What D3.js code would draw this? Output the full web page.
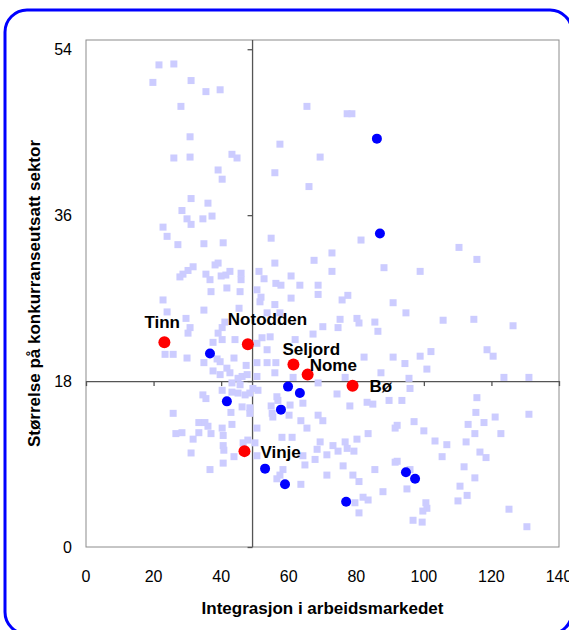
<!DOCTYPE html>
<meta charset="utf-8">
<style>
body { margin: 0; background: #fff; }
text { font-family: "Liberation Sans", Arial, sans-serif; fill: #000; }
.tick-label { font-size: 16px; }
.axis-title { font-size: 17px; font-weight: bold; }
.place-label { font-size: 17px; font-weight: bold; }
</style>
<body>
<script src="https://d3js.org/d3.v7.min.js"></script>
<script>

// all other municipalities (light squares): [integrasjon, størrelse]
var otherMunicipalities = [
  [21.6,52.3],[26.0,52.4],[19.8,50.4],[31.1,50.6],[35.5,49.4],[39.7,49.6],[28.1,47.8],[65.4,47.8],
  [77.3,47.0],[78.7,47.0],[30.8,44.5],[57.4,43.7],[26.0,42.2],[30.8,42.3],[43.2,42.6],[44.7,42.2],
  [69.3,42.3],[39.1,40.9],[40.3,39.9],[55.9,40.6],[66.0,39.1],[31.1,37.8],[36.1,37.3],[28.4,36.5],
  [29.9,35.6],[31.1,35.0],[34.6,35.6],[37.3,35.9],[22.8,34.7],[24.0,33.7],[27.2,32.8],[34.9,32.9],
  [40.6,33.0],[54.8,33.5],[81.4,33.3],[110.4,32.5],[72.8,31.9],[115.7,31.2],[67.5,31.1],[55.9,30.8],
  [88.2,30.3],[72.8,29.9],[51.2,29.9],[98.9,29.9],[31.7,30.4],[30.2,30.0],[28.7,29.6],[27.8,29.3],
  [35.5,29.6],[36.7,29.0],[38.2,30.6],[39.1,30.8],[40.0,29.4],[41.4,29.5],[42.6,29.9],[45.9,29.7],
  [45.9,29.0],[37.0,27.7],[41.7,28.1],[45.6,27.7],[52.7,29.1],[56.2,28.6],[57.7,28.4],[60.7,29.4],
  [63.3,28.4],[68.7,28.4],[68.7,27.4],[50.6,27.9],[51.8,27.1],[51.5,26.6],[55.9,26.3],[60.7,27.0],
  [77.5,27.3],[75.8,26.8],[90.9,26.5],[22.8,26.8],[24.0,25.5],[34.9,25.7],[45.3,25.9],[53.6,25.4],
  [57.4,25.4],[29.6,24.8],[30.8,23.8],[30.2,23.2],[41.1,24.4],[40.3,23.8],[39.1,23.2],[94.7,25.4],
  [85.5,24.4],[86.4,23.4],[105.7,24.6],[114.8,24.7],[126.4,24.0],[75.2,24.7],[74.6,23.8],[80.2,24.8],
  [80.8,24.3],[70.1,23.9],[67.2,23.1],[37.6,22.2],[40.3,22.5],[44.1,22.5],[50.6,22.1],[52.1,22.7],
  [54.5,22.8],[61.9,22.5],[53.6,21.4],[23.4,20.9],[25.8,20.9],[29.9,20.5],[34.9,20.0],[38.8,20.4],
  [39.7,20.1],[43.8,20.5],[47.4,19.7],[50.6,20.0],[53.6,20.0],[56.2,20.0],[82.3,20.6],[90.9,20.6],
  [118.7,21.4],[120.5,20.7],[98.9,20.7],[102.1,21.2],[94.4,19.9],[100.9,19.3],[87.3,18.9],[95.6,18.3],
  [123.7,18.4],[131.1,18.4],[37.6,19.1],[39.7,18.7],[41.7,19.4],[42.6,18.9],[45.0,18.3],[46.2,18.5],
  [47.7,18.7],[50.6,18.5],[55.9,18.9],[61.3,18.4],[68.7,17.8],[76.7,18.4],[43.2,17.8],[45.6,17.6],
  [34.6,16.5],[40.3,17.0],[43.2,16.8],[45.0,16.7],[47.1,16.5],[48.5,16.7],[49.4,17.2],[50.9,17.0],
  [56.5,16.3],[74.3,16.6],[95.9,17.2],[89.7,15.9],[93.5,15.9],[115.7,16.2],[35.5,16.1],[42.9,14.6],
  [25.8,14.5],[46.2,15.2],[48.5,15.1],[48.5,14.5],[56.8,15.9],[60.4,15.4],[60.1,14.3],[54.8,15.3],
  [55.1,14.5],[55.3,14.1],[64.2,15.6],[68.7,14.3],[70.1,13.7],[78.1,15.3],[83.2,15.7],[84.9,15.5],
  [33.4,13.5],[35.2,13.5],[36.1,13.1],[43.2,13.3],[40.3,12.9],[40.6,12.1],[26.6,12.3],[28.4,12.4],
  [33.4,12.4],[37.0,12.3],[31.7,11.7],[40.6,11.0],[40.8,10.5],[31.1,10.2],[43.8,9.8],[40.6,9.1],
  [36.7,8.4],[63.6,13.7],[65.4,12.9],[58.0,11.9],[61.0,11.9],[50.6,12.9],[83.5,12.3],[92.1,13.2],
  [91.5,12.9],[69.3,11.4],[68.4,10.6],[67.8,9.5],[46.5,11.3],[47.9,11.6],[50.0,11.3],[50.6,9.9],
  [64.2,9.9],[64.8,8.9],[73.1,11.0],[74.6,10.4],[76.7,11.4],[77.3,10.7],[79.3,10.4],[80.2,11.7],
  [71.3,10.0],[58.3,8.4],[57.4,7.8],[56.5,7.4],[76.1,8.8],[79.0,7.8],[80.8,7.1],[71.3,7.8],
  [85.5,8.4],[91.5,9.2],[63.6,6.8],[82.0,5.4],[83.5,5.1],[79.6,4.8],[80.8,3.7],[87.9,6.0],
  [115.4,14.6],[121.1,14.1],[131.1,14.4],[97.1,13.6],[100.0,12.6],[113.1,13.3],[117.8,13.5],[115.1,12.3],
  [122.8,12.3],[103.3,11.5],[106.8,11.1],[112.5,11.4],[116.6,10.3],[118.4,9.7],[105.4,9.8],[92.1,9.3],
  [95.9,8.4],[111.9,8.7],[115.1,7.5],[110.7,6.6],[112.8,5.6],[110.1,5.0],[95.0,6.3],[100.6,4.8],
  [100.9,4.2],[99.7,3.9],[96.8,2.9],[99.5,2.7],[125.2,4.1],[130.5,2.2]
];

// comparison municipalities (blue dots)
var comparisonMunicipalities = [
  [86.1,44.3],[87.0,34.0],[36.7,21.0],[41.7,15.8],[59.8,17.4],[63.3,16.7],
  [57.7,14.9],[53.0,8.5],[58.9,6.8],[77.0,4.9],[94.7,8.1],[97.4,7.4]
];

// Telemark municipalities (red dots)
var telemarkNames = ["Tinn", "Notodden", "Seljord", "Nome", "Bø", "Vinje"];
var telemarkX = [23.2, 47.9, 61.4, 65.6, 78.9, 46.9];
var telemarkY = [22.2, 22.0, 19.8, 18.7, 17.5, 10.4];

var xTicks = [0, 20, 40, 60, 80, 100, 120, 140];
var yTicks = [0, 18, 36, 54];
var xCross = 49.3;   // vertical axis crosses here
var yCross = 18;     // horizontal axis crosses here

var xTitle = "Integrasjon i arbeidsmarkedet";
var yTitle = "Størrelse på konkurranseutsatt sektor";

// label placement relative to the dot (pixels)
var labelOffset = {
  "Tinn": [-20, -14], "Notodden": [-20, -19], "Seljord": [-11, -9],
  "Nome": [2, -4], "Bø": [17, 6], "Vinje": [16, 7]
};

var width = 569, height = 630;
var plot = {left: 86, right: 559, top: 40, bottom: 547};

var svg = d3.select("body").append("svg")
    .attr("width", width)
    .attr("height", height);

// outer blue frame
svg.append("rect")
    .attr("x", 5).attr("y", 10)
    .attr("width", 567).attr("height", 624)
    .attr("rx", 22).attr("ry", 22)
    .attr("fill", "#fff")
    .attr("stroke", "#0000ff")
    .attr("stroke-width", 3);

var x = d3.scaleLinear().domain([0, 140]).range([plot.left, plot.right]);
var y = d3.scaleLinear().domain([0, 55]).range([plot.bottom, plot.top]);

// plot area border
svg.append("rect")
    .attr("x", plot.left).attr("y", plot.top)
    .attr("width", plot.right - plot.left)
    .attr("height", plot.bottom - plot.top)
    .attr("fill", "none")
    .attr("stroke", "#8c8c8c")
    .attr("stroke-width", 1);

// crossing axes
var xAxis = svg.append("g")
    .attr("transform", "translate(0," + y(yCross) + ")")
    .call(d3.axisBottom(x).tickValues(xTicks).tickSize(5).tickFormat("").tickSizeOuter(0));
var yAxis = svg.append("g")
    .attr("transform", "translate(" + x(xCross) + ",0)")
    .call(d3.axisLeft(y).tickValues(yTicks).tickSize(5).tickFormat("").tickSizeOuter(0));
[xAxis, yAxis].forEach(function(a) {
  a.select(".domain").attr("stroke", "#555").attr("stroke-width", 1.3);
  a.selectAll(".tick line").attr("stroke", "#555").attr("stroke-width", 1.3);
});
yAxis.select(".domain").attr("d", "M0," + y(0) + "V" + y(55));

// tick labels sit on the outer frame
svg.selectAll(".xlab")
  .data(xTicks)
  .enter().append("text")
    .attr("class", "tick-label")
    .attr("x", function(d) { return x(d); })
    .attr("y", plot.bottom + 35)
    .attr("text-anchor", "middle")
    .text(function(d) { return d; });

svg.selectAll(".ylab")
  .data(yTicks)
  .enter().append("text")
    .attr("class", "tick-label")
    .attr("x", plot.left - 14)
    .attr("y", function(d) { return y(d); })
    .attr("dy", "0.35em")
    .attr("text-anchor", "end")
    .text(function(d) { return d; });

// squares
svg.append("g").selectAll("rect")
  .data(otherMunicipalities)
  .enter().append("rect")
    .attr("x", function(d) { return x(d[0]) - 3.5; })
    .attr("y", function(d) { return y(d[1]) - 3.5; })
    .attr("width", 7)
    .attr("height", 7)
    .attr("fill", "#ccccff");

svg.append("g").selectAll("circle")
  .data(comparisonMunicipalities)
  .enter().append("circle")
    .attr("cx", function(d) { return x(d[0]); })
    .attr("cy", function(d) { return y(d[1]); })
    .attr("r", 5)
    .attr("fill", "#0000ff");

var telemark = telemarkNames.map(function(n, i) {
  return {name: n, x: telemarkX[i], y: telemarkY[i]};
});

svg.append("g").selectAll("circle")
  .data(telemark)
  .enter().append("circle")
    .attr("cx", function(d) { return x(d.x); })
    .attr("cy", function(d) { return y(d.y); })
    .attr("r", 6)
    .attr("fill", "#ff0000");

svg.append("g").selectAll("text")
  .data(telemark)
  .enter().append("text")
    .attr("class", "place-label")
    .attr("x", function(d) { return x(d.x) + labelOffset[d.name][0]; })
    .attr("y", function(d) { return y(d.y) + labelOffset[d.name][1]; })
    .text(function(d) { return d.name; });

// axis titles
svg.append("text")
    .attr("class", "axis-title")
    .attr("x", (plot.left + plot.right) / 2)
    .attr("y", 614)
    .attr("text-anchor", "middle")
    .text(xTitle);

svg.append("text")
    .attr("class", "axis-title")
    .attr("transform", "translate(40," + (plot.top + plot.bottom) / 2 + ") rotate(-90)")
    .attr("text-anchor", "middle")
    .text(yTitle);

</script>
</body>
